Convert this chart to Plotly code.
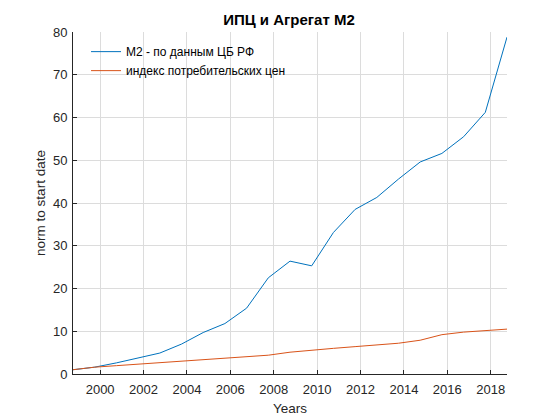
import plotly.graph_objects as go

years = [1998.75, 1999.75, 2000.75, 2001.75, 2002.75, 2003.75, 2004.75, 2005.75,
         2006.75, 2007.75, 2008.75, 2009.75, 2010.75, 2011.75, 2012.75, 2013.75,
         2014.75, 2015.75, 2016.75, 2017.75, 2018.75]
m2 = [1.0, 1.6, 2.6, 3.7, 4.9, 7.0, 9.7, 11.8, 15.4, 22.5, 26.4, 25.3, 33.1,
      38.5, 41.3, 45.6, 49.6, 51.6, 55.5, 61.2, 78.8]
cpi = [1.0, 1.6, 1.95, 2.3, 2.6, 3.0, 3.3, 3.7, 4.0, 4.4, 5.1, 5.6, 6.0, 6.4,
       6.8, 7.2, 7.9, 9.2, 9.8, 10.1, 10.5]
x_ticks = [2000, 2002, 2004, 2006, 2008, 2010, 2012, 2014, 2016, 2018]
y_ticks = [0, 10, 20, 30, 40, 50, 60, 70, 80]

names = ["М2 - по данным ЦБ РФ", "индекс потребительских цен"]
colors = ["#0072BD", "#D95319"]

fig = go.Figure()
fig.add_trace(go.Scatter(x=years, y=m2, mode="lines", name=names[0],
                         line=dict(color=colors[0], width=1)))
fig.add_trace(go.Scatter(x=years, y=cpi, mode="lines", name=names[1],
                         line=dict(color=colors[1], width=1)))

font_family = "Liberation Sans, Arial, sans-serif"
axis_common = dict(
    showgrid=True, gridcolor="#dcdcdc", gridwidth=1,
    showline=True, linecolor="#262626", linewidth=1,
    ticks="inside", ticklen=4, tickcolor="#262626",
    tickfont=dict(family=font_family, size=13, color="#262626"),
    zeroline=False, mirror=False, automargin=False,
)

fig.update_layout(
    width=560, height=420,
    paper_bgcolor="white", plot_bgcolor="white",
    margin=dict(l=73, r=53, t=32, b=46),
    title=dict(text="<b>ИПЦ и Агрегат М2</b>", x=289 / 560, xanchor="center",
               y=1 - 20 / 420, yanchor="middle",
               font=dict(family=font_family, size=15, color="black")),
    xaxis=dict(range=[1998.75, 2018.75], tickvals=x_ticks,
               title=dict(text="Years", standoff=7,
                          font=dict(family=font_family, size=13.5, color="#262626")),
               ticklabelstandoff=3,
               **axis_common),
    yaxis=dict(range=[0, 80], tickvals=y_ticks,
               title=dict(text="norm to start date", standoff=4,
                          font=dict(family=font_family, size=13.5, color="#262626")),
               ticklabelstandoff=2,
               **axis_common),
    legend=dict(x=0.03, y=0.985, xanchor="left", yanchor="top",
                bgcolor="rgba(0,0,0,0)", borderwidth=0,
                font=dict(family=font_family, size=12, color="black"),
                tracegroupgap=0),
    showlegend=True,
)

fig.write_html("out.html", config={"displayModeBar": False},
               post_script="document.body.style.margin='0';")
